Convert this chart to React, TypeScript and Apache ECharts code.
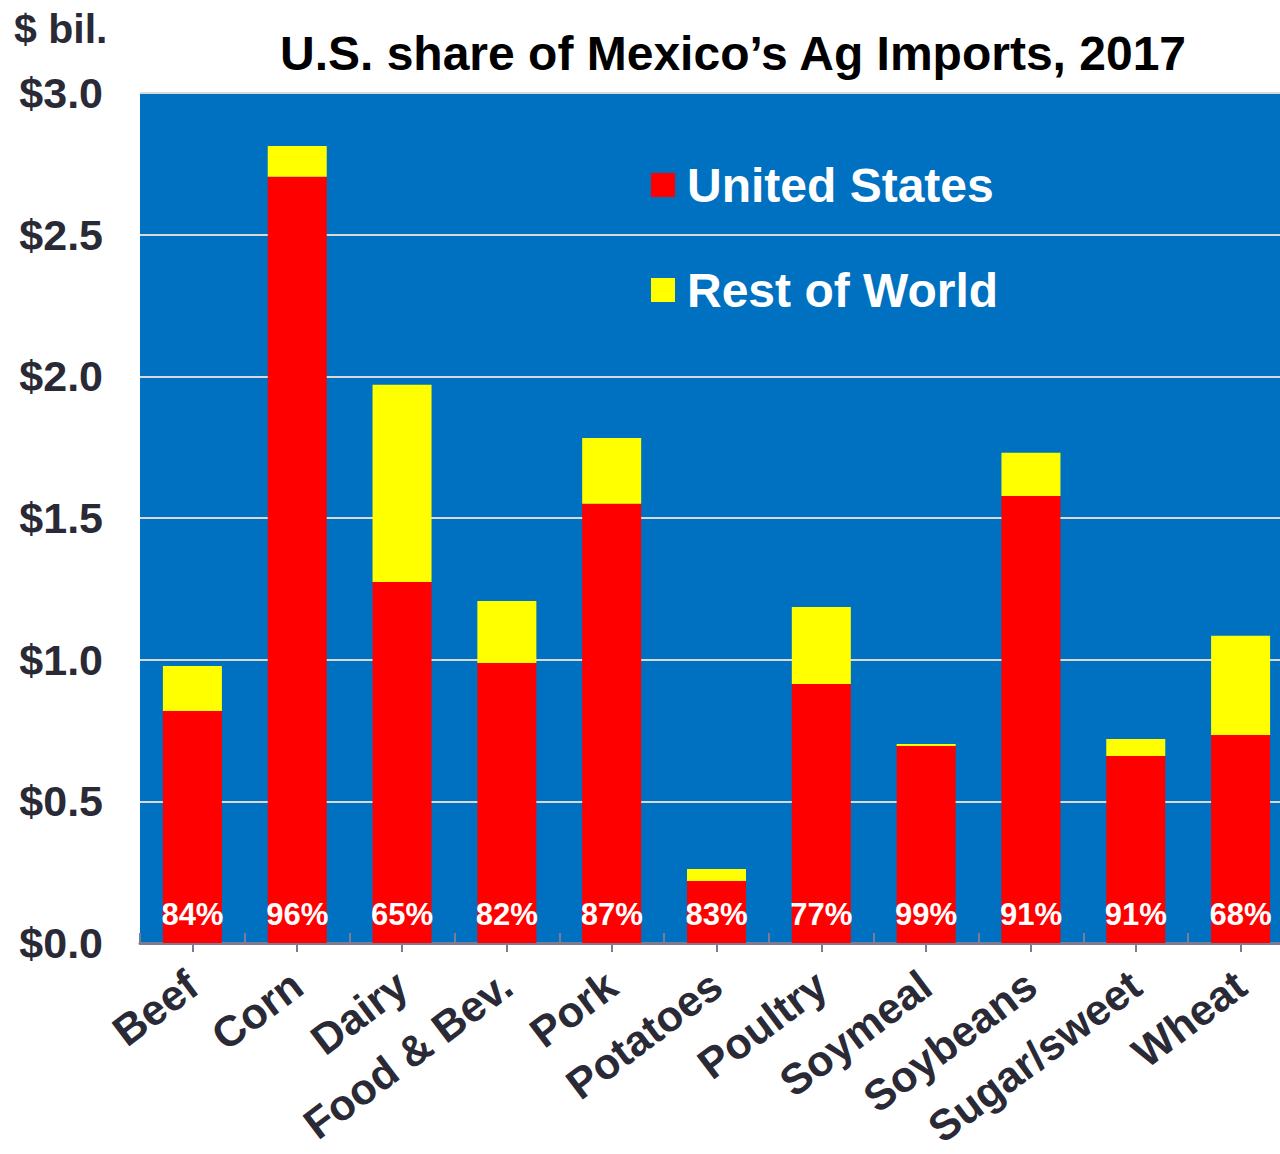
import React, { useEffect, useRef } from "react";
import * as echarts from "echarts";

const categories = ["Beef", "Corn", "Dairy", "Food & Bev.", "Pork", "Potatoes", "Poultry", "Soymeal", "Soybeans", "Sugar/sweet", "Wheat"];
const unitedStates = [0.819, 2.704, 1.274, 0.988, 1.55, 0.219, 0.914, 0.695, 1.578, 0.66, 0.734];
const restOfWorld = [0.159, 0.109, 0.696, 0.219, 0.232, 0.042, 0.272, 0.007, 0.152, 0.06, 0.35];
const usShare = ["84%", "96%", "65%", "82%", "87%", "83%", "77%", "99%", "91%", "91%", "68%"];
const yTicks = [0, 0.5, 1.0, 1.5, 2.0, 2.5, 3.0];

const FONT = "'Liberation Sans', Arial, 'DejaVu Sans', sans-serif";
const DARK = "#2a2a36";
const AXIS = "#7b7b92";

export default function App() {
  const ref = useRef<HTMLDivElement>(null);
  useEffect(() => {
    document.body.style.margin = "0";
    document.body.style.overflow = "hidden";
    const chart = echarts.init(ref.current!, null, { renderer: "svg" });
    chart.setOption({
      animation: false,
      textStyle: { fontFamily: FONT },
      title: {
        text: "U.S. share of Mexico\u2019s Ag Imports, 2017",
        left: 733,
        textAlign: "center",
        top: 29,
        padding: 0,
        textStyle: { fontFamily: FONT, fontSize: 48, fontWeight: "bold", color: "#000" },
      },
      graphic: [
        {
          type: "text",
          left: 14,
          top: 8,
          style: { text: "$ bil.", fontFamily: FONT, fontSize: 41, fontWeight: "bold", fill: DARK },
        },
      ],
      legend: {
        orient: "vertical",
        left: 651,
        top: 161,
        padding: 0,
        itemWidth: 24,
        itemHeight: 24,
        itemGap: 57,
        icon: "rect",
        data: ["United States", "Rest of World"],
        textStyle: { fontFamily: FONT, fontSize: 48, fontWeight: "bold", color: "#fff", padding: [0, 0, 0, 7] },
      },
      grid: {
        left: 140,
        top: 93,
        width: 1153,
        height: 850,
        show: true,
        backgroundColor: "#0070C0",
        borderWidth: 0,
      },
      xAxis: [
        {
          type: "category",
          data: categories,
          axisLine: { show: true, lineStyle: { color: AXIS, width: 3 } },
          axisTick: { show: true, alignWithLabel: true, length: 9, lineStyle: { color: AXIS, width: 2 } },
          axisLabel: {
            rotate: 37,
            margin: 37,
            fontFamily: FONT,
            fontSize: 43,
            fontWeight: "bold",
            color: DARK,
            interval: 0,
          },
        },
        {
          type: "category",
          data: categories,
          position: "bottom",
          axisLine: { show: false },
          axisTick: { show: true, inside: true, length: 10, lineStyle: { color: AXIS, width: 2 } },
          axisLabel: { show: false },
        },
      ],
      yAxis: {
        type: "value",
        min: 0,
        max: 3,
        interval: 0.5,
        axisLine: { show: false },
        axisTick: { show: false },
        splitLine: { show: true, lineStyle: { color: "#d9d9d9", width: 2 } },
        axisLabel: {
          margin: 37,
          fontFamily: FONT,
          fontSize: 43,
          fontWeight: "bold",
          color: DARK,
          formatter: (v: number) => (yTicks.includes(v) ? "$" + v.toFixed(1) : ""),
        },
      },
      series: [
        {
          name: "United States",
          type: "bar",
          stack: "total",
          barWidth: 59,
          data: unitedStates,
          itemStyle: { color: "#FF0000" },
          label: {
            show: true,
            position: "insideBottom",
            distance: 13,
            formatter: (p: any) => usShare[p.dataIndex],
            fontFamily: FONT,
            fontSize: 31,
            fontWeight: "bold",
            color: "#fff",
          },
        },
        {
          name: "Rest of World",
          type: "bar",
          stack: "total",
          barWidth: 59,
          data: restOfWorld,
          itemStyle: { color: "#FFFF00" },
        },
      ],
    });
    return () => chart.dispose();
  }, []);
  return (
    <div style={{ width: 1280, height: 1154, overflow: "hidden" }}>
      <div ref={ref} style={{ width: 1300, height: 1154 }} />
    </div>
  );
}
